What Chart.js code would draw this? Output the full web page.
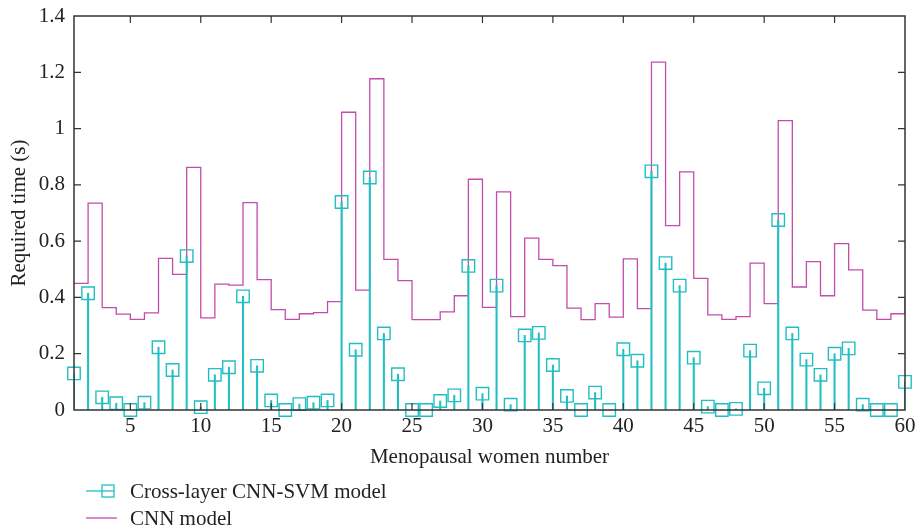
<!DOCTYPE html>
<html>
<head>
<meta charset="utf-8">
<script src="https://cdn.jsdelivr.net/npm/chart.js@4.4.1/dist/chart.umd.min.js"></script>
<style>
  html, body { margin: 0; padding: 0; background: #fff; }
  #wrap { width: 917px; height: 531px; }
</style>
</head>
<body>
<div id="wrap"><canvas id="timeChart" width="917" height="531"></canvas></div>
<script>
const womenNumbers = Array.from({ length: 60 }, (_, i) => i + 1);

const cnnTimes = [
  0.450, 0.735, 0.364, 0.341, 0.322, 0.345, 0.539, 0.482, 0.862, 0.327,
  0.447, 0.444, 0.737, 0.463, 0.357, 0.322, 0.342, 0.346, 0.385, 1.058,
  0.426, 1.177, 0.535, 0.460, 0.321, 0.321, 0.349, 0.406, 0.820, 0.365,
  0.775, 0.332, 0.611, 0.535, 0.513, 0.362, 0.321, 0.378, 0.330, 0.537,
  0.360, 1.236, 0.655, 0.846, 0.468, 0.338, 0.322, 0.332, 0.522, 0.378,
  1.028, 0.437, 0.527, 0.406, 0.591, 0.498, 0.355, 0.322, 0.342, 0.400
];

const svmTimes = [
  0.130, 0.415, 0.045, 0.024, 0.000, 0.026, 0.223, 0.142, 0.547, 0.010,
  0.125, 0.152, 0.404, 0.157, 0.034, 0.000, 0.021, 0.026, 0.034, 0.739,
  0.214, 0.826, 0.272, 0.127, 0.000, 0.000, 0.032, 0.052, 0.512, 0.058,
  0.442, 0.019, 0.265, 0.274, 0.160, 0.050, 0.000, 0.062, 0.000, 0.216,
  0.175, 0.848, 0.522, 0.442, 0.186, 0.012, 0.000, 0.004, 0.211, 0.077,
  0.675, 0.272, 0.179, 0.125, 0.200, 0.219, 0.019, 0.000, 0.000, 0.100
];

const xTickValues = [5, 10, 15, 20, 25, 30, 35, 40, 45, 50, 55, 60];
const yTickValues = [0, 0.2, 0.4, 0.6, 0.8, 1, 1.2, 1.4];
const yTickLabels = ["0", "0.2", "0.4", "0.6", "0.8", "1", "1.2", "1.4"];

const seriesNames = ["Cross-layer CNN-SVM model", "CNN model"];

const CYAN = "#22bfc2";
const MAGENTA = "#c24dab";
const AXIS = "#333333";
const FONT = "'Liberation Serif', 'DejaVu Serif', serif";
const FONT_SIZE = 21;

const svmPoints = womenNumbers.map((n, i) => ({ x: n, y: svmTimes[i] }));
const cnnPoints = womenNumbers.map((n, i) => ({ x: n, y: cnnTimes[i] }));

// keep the end labels from pushing the plot box inwards
function noEdgePadding(s) {
  s.paddingTop = 0;
  s.paddingBottom = 0;
  s.paddingLeft = 0;
  s.paddingRight = 0;
}

// box around the plot, inward ticks on all four sides, and the legend below
const frameAndLegend = {
  id: "frameAndLegend",
  afterDraw(chart) {
    const { ctx, chartArea: a, scales: { x, y } } = chart;
    const len = 7;
    ctx.save();
    ctx.strokeStyle = AXIS;
    ctx.lineWidth = 1.5;
    ctx.strokeRect(a.left, a.top, a.right - a.left, a.bottom - a.top);
    ctx.lineWidth = 1.2;
    ctx.beginPath();
    xTickValues.forEach(v => {
      const px = x.getPixelForValue(v);
      if (px >= a.right - 1) return;
      ctx.moveTo(px, a.bottom); ctx.lineTo(px, a.bottom - len);
      ctx.moveTo(px, a.top); ctx.lineTo(px, a.top + len);
    });
    yTickValues.forEach(v => {
      const py = y.getPixelForValue(v);
      if (py >= a.bottom - 1 || py <= a.top + 1) return;
      ctx.moveTo(a.left, py); ctx.lineTo(a.left + len, py);
      ctx.moveTo(a.right, py); ctx.lineTo(a.right - len, py);
    });
    ctx.stroke();

    // legend
    ctx.font = FONT_SIZE + "px " + FONT;
    ctx.fillStyle = "#222";
    ctx.textBaseline = "middle";
    const rows = [491, 518];
    ctx.lineWidth = 1.3;
    ctx.strokeStyle = CYAN;
    ctx.beginPath();
    ctx.moveTo(86, rows[0]); ctx.lineTo(114, rows[0]);
    ctx.stroke();
    ctx.strokeRect(102, rows[0] - 6, 12, 12);
    ctx.strokeStyle = MAGENTA;
    ctx.beginPath();
    ctx.moveTo(86, rows[1]); ctx.lineTo(117, rows[1]);
    ctx.stroke();
    seriesNames.forEach((name, i) => ctx.fillText(name, 130, rows[i] + 1));
    ctx.restore();
  }
};

new Chart(document.getElementById("timeChart"), {
  data: {
    datasets: [
      {
        type: "line",
        label: seriesNames[1],
        data: cnnPoints,
        stepped: "before",
        borderColor: MAGENTA,
        borderWidth: 1.3,
        pointRadius: 0,
        fill: false,
        order: 3
      },
      {
        type: "bar",
        label: seriesNames[0],
        data: svmPoints,
        backgroundColor: CYAN,
        barThickness: 1.4,
        order: 2
      },
      {
        type: "scatter",
        label: seriesNames[0],
        data: svmPoints,
        pointStyle: "rect",
        pointRadius: 8.8,
        pointBorderWidth: 1.4,
        borderColor: CYAN,
        backgroundColor: "rgba(0,0,0,0)",
        showLine: false,
        clip: false,
        order: 1
      }
    ]
  },
  options: {
    responsive: false,
    animation: false,
    layout: { padding: { left: 0, right: 12, top: 16, bottom: 61 } },
    plugins: {
      legend: { display: false },
      tooltip: { enabled: false }
    },
    scales: {
      x: {
        type: "linear",
        min: 1,
        max: 60,
        offset: false,
        afterBuildTicks: s => { s.ticks = xTickValues.map(v => ({ value: v })); },
        afterFit: s => { s.height = 60; noEdgePadding(s); },
        grid: { display: false, drawTicks: false },
        border: { display: false },
        ticks: { color: "#222", font: { family: FONT, size: FONT_SIZE }, padding: 4, maxRotation: 0, autoSkip: false },
        title: { display: true, text: "Menopausal women number", color: "#222", font: { family: FONT, size: FONT_SIZE }, padding: { top: 0, bottom: 0 } }
      },
      y: {
        min: 0,
        max: 1.4,
        afterBuildTicks: s => { s.ticks = yTickValues.map(v => ({ value: v })); },
        afterFit: s => { s.width = 74; noEdgePadding(s); },
        grid: { display: false, drawTicks: false },
        border: { display: false },
        ticks: {
          color: "#222",
          font: { family: FONT, size: FONT_SIZE },
          padding: 9,
          callback: (v) => yTickLabels[yTickValues.indexOf(v)]
        },
        title: { display: true, text: "Required time (s)", color: "#222", font: { family: FONT, size: FONT_SIZE }, padding: { top: 7, bottom: 0 } }
      }
    }
  },
  plugins: [frameAndLegend]
});
</script>
</body>
</html>
